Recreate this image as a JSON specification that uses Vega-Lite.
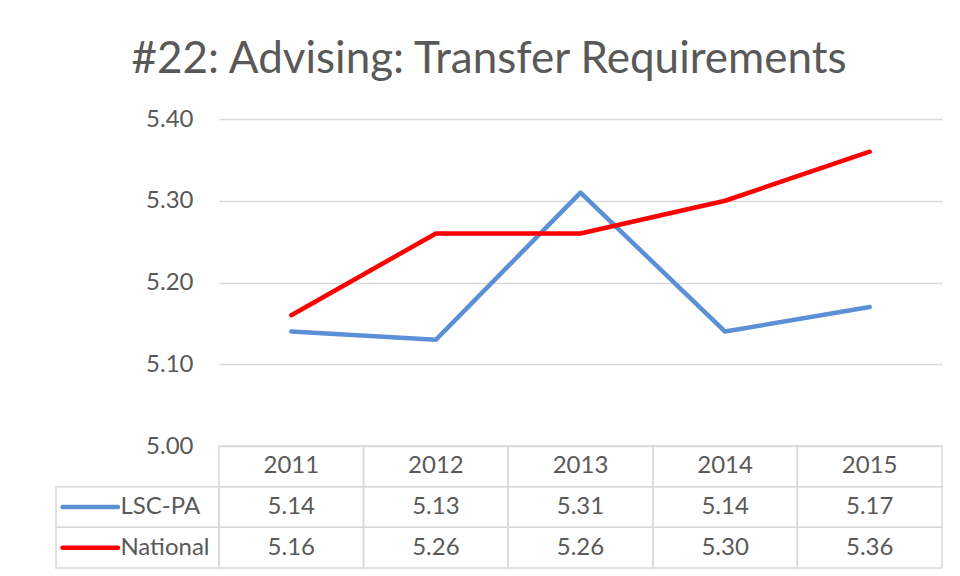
{
  "$schema": "https://vega.github.io/schema/vega-lite/v6.json",
  "padding": {"left": 55, "top": 38, "right": 5, "bottom": 5},
  "background": "white",
  "title": {"text": "#22: Advising: Transfer Requirements", "fontSize": 44, "font": "Lato", "fontWeight": "normal", "color": "#595959", "anchor": "middle", "offset": 25, "dx": -10},
  "columns": 2,
  "spacing": 0,
  "bounds": "flush",
  "datasets": {
    "d": [
      {"year": "2011", "series": "LSC-PA", "value": 5.14},
      {"year": "2012", "series": "LSC-PA", "value": 5.13},
      {"year": "2013", "series": "LSC-PA", "value": 5.31},
      {"year": "2014", "series": "LSC-PA", "value": 5.14},
      {"year": "2015", "series": "LSC-PA", "value": 5.17},
      {"year": "2011", "series": "National", "value": 5.16},
      {"year": "2012", "series": "National", "value": 5.26},
      {"year": "2013", "series": "National", "value": 5.26},
      {"year": "2014", "series": "National", "value": 5.30},
      {"year": "2015", "series": "National", "value": 5.36}
    ]
  },
  "concat": [
    {
      "width": 163, "height": 327,
      "data": {"name": "d"},
      "mark": {"type": "point", "opacity": 0},
      "encoding": {}
    },
    {
      "width": 723, "height": 327,
      "data": {"name": "d"},
      "mark": {"type": "line", "strokeWidth": 4.5, "strokeCap": "round", "strokeJoin": "round"},
      "encoding": {
        "x": {"field": "year", "type": "ordinal", "scale": {"type": "point", "padding": 0.5}, "axis": null},
        "y": {"field": "value", "type": "quantitative", "scale": {"domain": [5.0, 5.4], "nice": false, "zero": false},
              "axis": {"values": [5.0, 5.1, 5.2, 5.3, 5.4], "format": ".2f", "title": null, "domain": false, "ticks": false, "labelFontSize": 24, "labelFont": "Lato", "labelColor": "#595959", "labelPadding": 26, "gridColor": "#d9d9d9", "gridWidth": 1.5}},
        "color": {"field": "series", "type": "nominal", "scale": {"domain": ["LSC-PA", "National"], "range": ["#5b8fd6", "#ff0000"]}, "legend": null}
      }
    },
    {
      "width": 163, "height": 122,
      "data": {"name": "d"},
      "transform": [{"filter": "datum.year == '2011'"}],
      "encoding": {
        "y": {"field": "series", "type": "nominal", "scale": {"domain": ["Year", "LSC-PA", "National"], "paddingInner": 0, "paddingOuter": 0}, "axis": null}
      },
      "layer": [
        {"mark": {"type": "rect", "fillOpacity": 0, "stroke": "#d9d9d9", "strokeWidth": 1.5}},
        {"mark": {"type": "rule", "strokeWidth": 4.5, "strokeCap": "round"},
         "encoding": {
           "x": {"datum": 0.04, "type": "quantitative", "scale": {"domain": [0, 1]}, "axis": null},
           "x2": {"datum": 0.38},
           "color": {"field": "series", "type": "nominal", "scale": {"domain": ["LSC-PA", "National"], "range": ["#5b8fd6", "#ff0000"]}, "legend": null}
         }},
        {"mark": {"type": "text", "align": "left", "baseline": "middle", "fontSize": 24, "font": "Lato", "color": "#595959"},
         "encoding": {
           "x": {"datum": 0.395, "type": "quantitative"},
           "text": {"field": "series"}
         }}
      ]
    },
    {
      "width": 723, "height": 122,
      "data": {"name": "d"},
      "encoding": {
        "x": {"field": "year", "type": "ordinal", "scale": {"type": "band", "paddingInner": 0, "paddingOuter": 0}, "axis": null}
      },
      "layer": [
        {"mark": {"type": "rect", "fillOpacity": 0, "stroke": "#d9d9d9", "strokeWidth": 1.5},
         "encoding": {"y": {"field": "series", "type": "nominal", "scale": {"domain": ["Year", "LSC-PA", "National"], "paddingInner": 0, "paddingOuter": 0}, "axis": null}}},
        {"transform": [{"filter": "datum.series == 'LSC-PA'"}],
         "mark": {"type": "rect", "fillOpacity": 0, "stroke": "#d9d9d9", "strokeWidth": 1.5},
         "encoding": {"y": {"datum": "Year", "type": "nominal"}}},
        {"mark": {"type": "text", "baseline": "middle", "fontSize": 24, "font": "Lato", "color": "#595959"},
         "encoding": {"y": {"field": "series", "type": "nominal"}, "text": {"field": "value", "type": "quantitative", "format": ".2f"}}},
        {"transform": [{"filter": "datum.series == 'LSC-PA'"}],
         "mark": {"type": "text", "baseline": "middle", "fontSize": 24, "font": "Lato", "color": "#595959"},
         "encoding": {"y": {"datum": "Year", "type": "nominal"}, "text": {"field": "year"}}}
      ]
    }
  ],
  "config": {"view": {"stroke": null}}
}
